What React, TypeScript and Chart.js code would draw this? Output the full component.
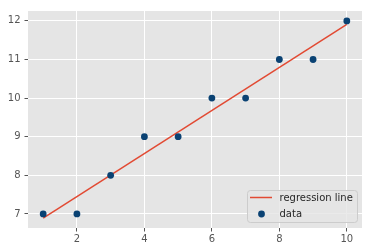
import React, { useEffect, useRef } from "react";
import { Chart, registerables } from "chart.js";

Chart.register(...registerables);

const xValues = [1, 2, 3, 4, 5, 6, 7, 8, 9, 10];
const yValues = [7, 7, 8, 9, 9, 10, 10, 11, 11, 12];
const lineX = [1, 10];
const lineY = [6.89, 11.91];
const xTicks = [2, 4, 6, 8, 10];
const yTicks = [7, 8, 9, 10, 11, 12];
const lineLabel = "regression line";
const dataLabel = "data";

const LINE_COLOR = "#E24A33";
const POINT_COLOR = "#0a4273";
const BG = "#E5E5E5";
const TEXT = "#555555";
const FONT = "'DejaVu Sans', sans-serif";

const bgPlugin = {
  id: "bgFill",
  beforeDraw(chart: any) {
    const { ctx, chartArea } = chart;
    ctx.save();
    ctx.fillStyle = BG;
    ctx.fillRect(chartArea.left, chartArea.top, chartArea.right - chartArea.left, chartArea.bottom - chartArea.top);
    ctx.restore();
  },
};

const legendPlugin = {
  id: "mplLegend",
  afterDraw(chart: any) {
    const { ctx } = chart;
    const ds = chart.data.datasets;
    const x = 247.5, y = 190.5, w = 110, h = 32, r = 3;
    ctx.save();
    ctx.beginPath();
    ctx.moveTo(x + r, y);
    ctx.arcTo(x + w, y, x + w, y + h, r);
    ctx.arcTo(x + w, y + h, x, y + h, r);
    ctx.arcTo(x, y + h, x, y, r);
    ctx.arcTo(x, y, x + w, y, r);
    ctx.closePath();
    ctx.fillStyle = "rgba(229,229,229,0.8)";
    ctx.fill();
    ctx.strokeStyle = "#cccccc";
    ctx.lineWidth = 1;
    ctx.stroke();
    // line item
    ctx.strokeStyle = LINE_COLOR;
    ctx.lineWidth = 1.5;
    ctx.beginPath();
    ctx.moveTo(250, 197.5);
    ctx.lineTo(272, 197.5);
    ctx.stroke();
    // point item
    ctx.fillStyle = POINT_COLOR;
    ctx.beginPath();
    ctx.arc(261.5, 214, 3.4, 0, Math.PI * 2);
    ctx.fill();
    ctx.fillStyle = "#262626";
    ctx.font = `10px ${FONT}`;
    ctx.textBaseline = "middle";
    ctx.textAlign = "left";
    ctx.fillText(ds[0].label, 279.5, 198);
    ctx.fillText(ds[1].label, 279.5, 214);
    ctx.restore();
  },
};

export default function App() {
  const ref = useRef<HTMLCanvasElement>(null);
  useEffect(() => {
    document.body.style.margin = "0";
    const chart = new Chart(ref.current!, {
      type: "scatter",
      data: {
        datasets: [
          {
            type: "line",
            label: lineLabel,
            data: lineX.map((x, i) => ({ x, y: lineY[i] })),
            borderColor: LINE_COLOR,
            borderWidth: 1.5,
            pointRadius: 0,
            fill: false,
            order: 2,
          } as any,
          {
            label: dataLabel,
            data: xValues.map((x, i) => ({ x, y: yValues[i] })),
            backgroundColor: POINT_COLOR,
            borderColor: POINT_COLOR,
            borderWidth: 0,
            pointRadius: 3.4,
            order: 1,
          },
        ],
      },
      options: {
        animation: false,
        responsive: false,
        maintainAspectRatio: false,
        layout: { padding: { left: 0, right: 10, top: 11, bottom: 0 } },
        plugins: { legend: { display: false }, tooltip: { enabled: false } },
        scales: {
          x: {
            type: "linear",
            min: 0.55,
            max: 10.45,
            afterBuildTicks: (s: any) => {
              s.ticks = xTicks.map((v) => ({ value: v }));
            },
            afterFit: (s: any) => {
              s.height = 24;
            },
            grid: { color: "#ffffff", lineWidth: 1, tickColor: TEXT, tickLength: 3.5, drawTicks: true },
            border: { display: false },
            ticks: { color: TEXT, font: { family: FONT, size: 10 }, padding: 2, maxRotation: 0 },
          },
          y: {
            type: "linear",
            min: 6.636,
            max: 12.256,
            afterBuildTicks: (s: any) => {
              s.ticks = yTicks.map((v) => ({ value: v }));
            },
            afterFit: (s: any) => {
              s.width = 28;
            },
            grid: { color: "#ffffff", lineWidth: 1, tickColor: TEXT, tickLength: 3.5, drawTicks: true },
            border: { display: false },
            ticks: { color: TEXT, font: { family: FONT, size: 10 }, padding: 4 },
          },
        },
      },
      plugins: [bgPlugin, legendPlugin],
    });
    return () => chart.destroy();
  }, []);
  return <canvas ref={ref} width={372} height={252} style={{ display: "block" }} />;
}
